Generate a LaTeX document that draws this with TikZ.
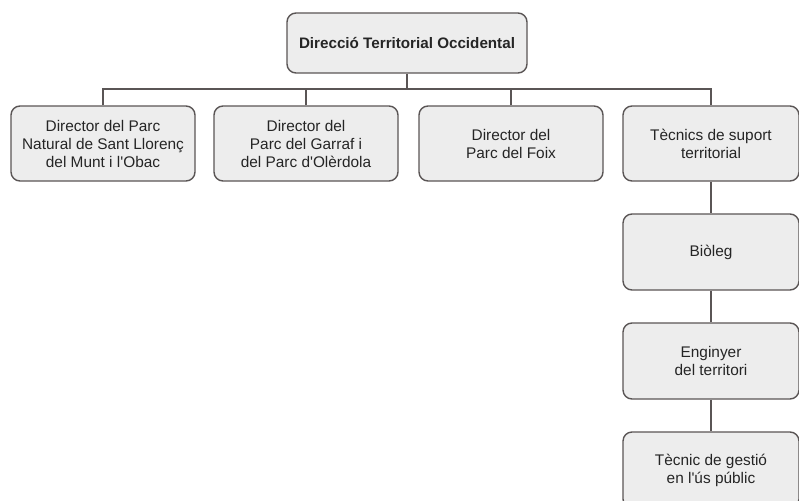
\documentclass[tikz,border=0pt]{standalone}
\usepackage{fontspec}
\setmainfont{Liberation Sans}
\definecolor{boxfill}{HTML}{EDEDED}
\definecolor{boxline}{HTML}{5A5555}
\definecolor{txt}{HTML}{252525}
\begin{document}
\begin{tikzpicture}[x=1pt,y=-1pt,
  box/.style={draw=boxline, fill=boxfill, line width=1.4pt, rounded corners=9pt,
    align=center, inner sep=0pt, text=txt,
    font=\fontsize{15.4}{18}\selectfont},
  conn/.style={draw=boxline, line width=1.3pt}]
\useasboundingbox (0,0) rectangle (799,500);
\clip (0,0) rectangle (799,500);
\node[box, minimum width=240pt, minimum height=60pt, font=\bfseries\fontsize{15.2}{18}\selectfont] (top) at (407,43) {Direcció Territorial Occidental};
\node[box, minimum width=184pt, minimum height=75pt] (b1) at (103,143.5) {Director del Parc\\Natural de Sant Llorenç\\del Munt i l\textquotesingle Obac};
\node[box, minimum width=184pt, minimum height=75pt] (b2) at (306,143.5) {Director del\\Parc del Garraf i\\del Parc d\textquotesingle Olèrdola};
\node[box, minimum width=184pt, minimum height=75pt] (b3) at (511,143.5) {Director del\\Parc del Foix};
\node[box, minimum width=176pt, minimum height=75pt] (b4) at (711,143.5) {Tècnics de suport\\territorial};
\node[box, minimum width=176pt, minimum height=76pt] (b5) at (711,252) {Biòleg};
\node[box, minimum width=176pt, minimum height=76pt] (b6) at (711,361) {Enginyer\\del territori};
\node[box, minimum width=176pt, minimum height=76pt] (b7) at (711,470) {Tècnic de gestió\\en l\textquotesingle ús públic};
\coordinate (bus) at (0,89);
\draw[conn] (top.south) -- (top.south |- bus);
\draw[conn] (b1.north) -- (b1.north |- bus) -- (b4.north |- bus) -- (b4.north);
\draw[conn] (b2.north) -- (b2.north |- bus);
\draw[conn] (b3.north) -- (b3.north |- bus);
\draw[conn] (b4.south) -- (b5.north);
\draw[conn] (b5.south) -- (b6.north);
\draw[conn] (b6.south) -- (b7.north);
\end{tikzpicture}
\end{document}
